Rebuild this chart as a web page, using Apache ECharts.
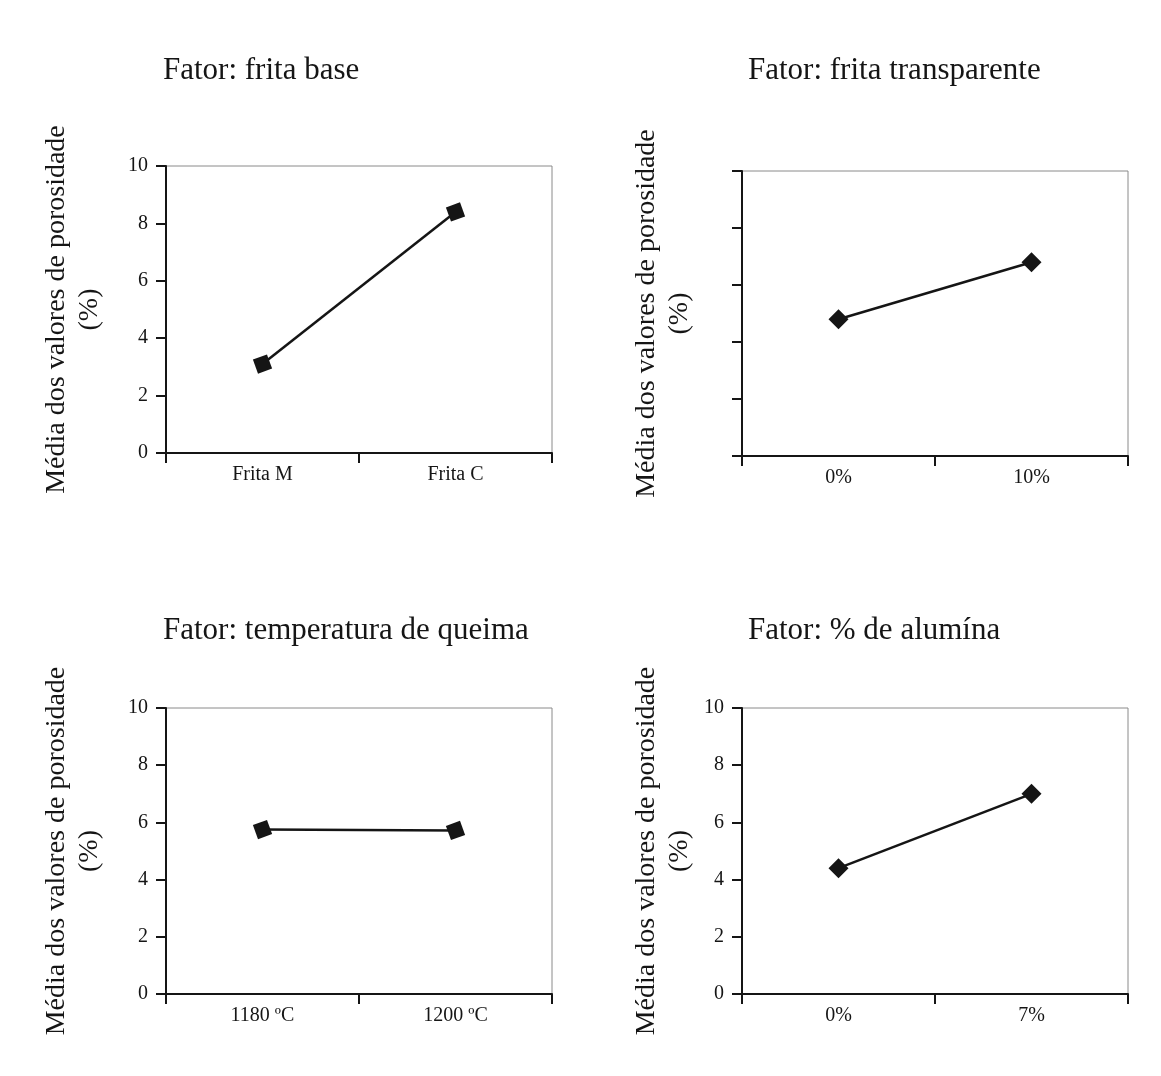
<!DOCTYPE html>
<html>
<head>
<meta charset="utf-8">
<script src="https://cdn.jsdelivr.net/npm/echarts@6/dist/echarts.min.js"></script>
<style>
html,body{margin:0;padding:0;background:#fff;}
#chart{width:1161px;height:1076px;}
</style>
</head>
<body>
<div id="chart"></div>
<script>
// ---- data ----
const titles = ['Fator: frita base', 'Fator: frita transparente', 'Fator: temperatura de queima', 'Fator: % de alumína'];
const yAxisName = 'Média dos valores de porosidade\n(%)';
const categoriesA = ['Frita M', 'Frita C'];
const valuesA = [3.1, 8.4];
const categoriesB = ['0%', '10%'];
const valuesB = [4.8, 6.8];
const categoriesC = ['1180 ºC', '1200 ºC'];
const valuesC = [5.75, 5.72];
const categoriesD = ['0%', '7%'];
const valuesD = [4.4, 7.0];
const yMin = 0, yMax = 10, yInterval = 2;

// ---- layout / styles ----
const FONT = '"Liberation Serif", "Times New Roman", serif';
const INK = '#151515';
const panels = [
  {cats: categoriesA, vals: valuesA, grid: {left: 166, top: 166, width: 386, height: 287}, title: {left: 163, top: 55}, labels: true, nameGap: 60, symbol: 'rect'},
  {cats: categoriesB, vals: valuesB, grid: {left: 742, top: 171, width: 386, height: 285}, title: {left: 748, top: 55}, labels: false, nameGap: 46, symbol: 'diamond'},
  {cats: categoriesC, vals: valuesC, grid: {left: 166, top: 708, width: 386, height: 286}, title: {left: 163, top: 615}, labels: true, nameGap: 60, symbol: 'rect'},
  {cats: categoriesD, vals: valuesD, grid: {left: 742, top: 708, width: 386, height: 286}, title: {left: 748, top: 615}, labels: true, nameGap: 46, symbol: 'diamond'}
];

const option = {
  animation: false,
  backgroundColor: '#fff',
  title: panels.map((p, i) => ({
    text: titles[i], left: p.title.left, top: p.title.top, padding: 0,
    textStyle: {fontFamily: FONT, fontSize: 31, fontWeight: 'normal', color: INK}
  })),
  grid: panels.map(p => Object.assign({show: true, borderColor: '#8a8a8a', borderWidth: 1, backgroundColor: '#fff'}, p.grid)),
  xAxis: panels.map((p, i) => ({
    type: 'category', gridIndex: i, data: p.cats, boundaryGap: true,
    axisLine: {show: true, lineStyle: {color: INK, width: 2}},
    axisTick: {show: true, length: 10, lineStyle: {color: INK, width: 2}},
    axisLabel: {fontFamily: FONT, fontSize: 20, color: INK, margin: 12},
    splitLine: {show: false}
  })),
  yAxis: panels.map((p, i) => ({
    type: 'value', gridIndex: i, min: yMin, max: yMax, interval: yInterval,
    name: yAxisName, nameLocation: 'middle', nameRotate: 90,
    nameGap: p.nameGap,
    nameTextStyle: {fontFamily: FONT, fontSize: 28, color: INK, lineHeight: 33},
    axisLine: {show: true, lineStyle: {color: INK, width: 2}},
    axisTick: {show: true, length: 10, lineStyle: {color: INK, width: 2}},
    axisLabel: {show: p.labels, fontFamily: FONT, fontSize: 20, color: INK, margin: 18},
    splitLine: {show: false}
  })),
  series: panels.map((p, i) => ({
    type: 'line', xAxisIndex: i, yAxisIndex: i, data: p.vals,
    symbol: p.symbol,
    symbolSize: p.symbol === 'rect' ? 15 : 20,
    symbolRotate: p.symbol === 'rect' ? 20 : 0,
    lineStyle: {color: INK, width: 2.5},
    itemStyle: {color: INK},
    z: 3
  }))
};

const chart = echarts.init(document.getElementById('chart'), null, {renderer: 'canvas'});
chart.setOption(option);
</script>
</body>
</html>
